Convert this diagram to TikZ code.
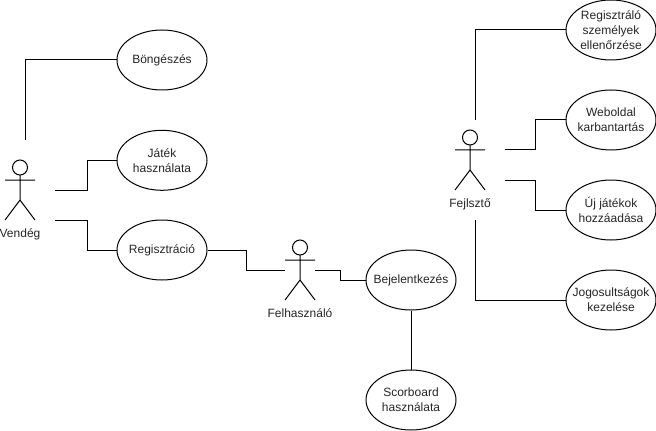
\documentclass[tikz,border=0pt]{standalone}
\usepackage{fontspec}
\setmainfont{Liberation Sans}
\usetikzlibrary{shapes.geometric}
\tikzset{
  usecase/.style={ellipse,draw=black,line width=0.75pt,minimum width=67.5pt,minimum height=45pt,inner xsep=-12pt,inner ysep=-8pt,align=center,font=\fontsize{9pt}{11.25pt}\selectfont,text=black!85},
  actorlabel/.style={inner sep=0pt,font=\fontsize{9pt}{11.25pt}\selectfont,text=black!85},
  actorhead/.style={circle,draw=black,line width=0.75pt,minimum size=11.25pt,inner sep=0pt},
  link/.style={draw=black,line width=0.75pt},
  actor/.pic={
    \draw[link] (0,15) -- (0,40) (-15,20) -- (15,20) (-15,60) -- (0,40) -- (15,60);
  }
}
\begin{document}
\begin{tikzpicture}[x=0.75pt,y=-0.75pt]
\useasboundingbox[fill=white] (0,0) rectangle (656,431);
% use cases
\node[usecase] (bong) at (162,60) {Böngészés};
\node[usecase] (jatek) at (162,160.3) {Játék\\használata};
\node[usecase] (reg) at (162,250) {Regisztráció};
\node[usecase] (bej) at (411,280) {Bejelentkezés};
\node[usecase] (score) at (411,400) {Scorboard\\használata};
\node[usecase] (ell) at (611,30) {Regisztráló\\személyek\\ellenőrzése};
\node[usecase] (web) at (611,120) {Weboldal\\karbantartás};
\node[usecase] (uj) at (611,210) {Új játékok\\hozzáadása};
\node[usecase] (jog) at (611,300) {Jogosultságok\\kezelése};
% actors
\node[actorhead] (vh) at (20,167.5) {};
\pic at (20,160) {actor};
\node[actorlabel] (vl) at (20,234) {Vendég};
\node[actorhead] (fh) at (300,247.5) {};
\pic at (300,240) {actor};
\node[actorlabel] (fl) at (300,313) {Felhasználó};
\node[actorhead] (ah) at (470,137.5) {};
\pic at (470,130) {actor};
\node[actorlabel] (al) at (470,204) {Fejlsztő};
% free ends
\coordinate (v1) at (25,140);
\coordinate (v2) at (55,190);
\coordinate (v3) at (55,220);
\coordinate (f1) at (285,270);
\coordinate (f2) at (315,270);
\coordinate (a1) at (475,120);
\coordinate (a2) at (505,150);
\coordinate (a3) at (505,180);
\coordinate (a4) at (475,220);
% connectors
\draw[link] (v1) |- (bong.west);
\draw[link] (v2) -- (87,190) |- (jatek.west);
\draw[link] (v3) -- (87,220) |- (reg.west);
\draw[link] (reg.east) -- (246,250) |- (f1);
\draw[link] (f2) -- (340,270) |- (bej.west);
\draw[link] (bej.south) -- (score.north);
\draw[link] (a1) |- (ell.west);
\draw[link] (a2) -- (535,150) |- (web.west);
\draw[link] (a3) -- (535,180) |- (uj.west);
\draw[link] (a4) |- (jog.west);
\end{tikzpicture}
\end{document}
